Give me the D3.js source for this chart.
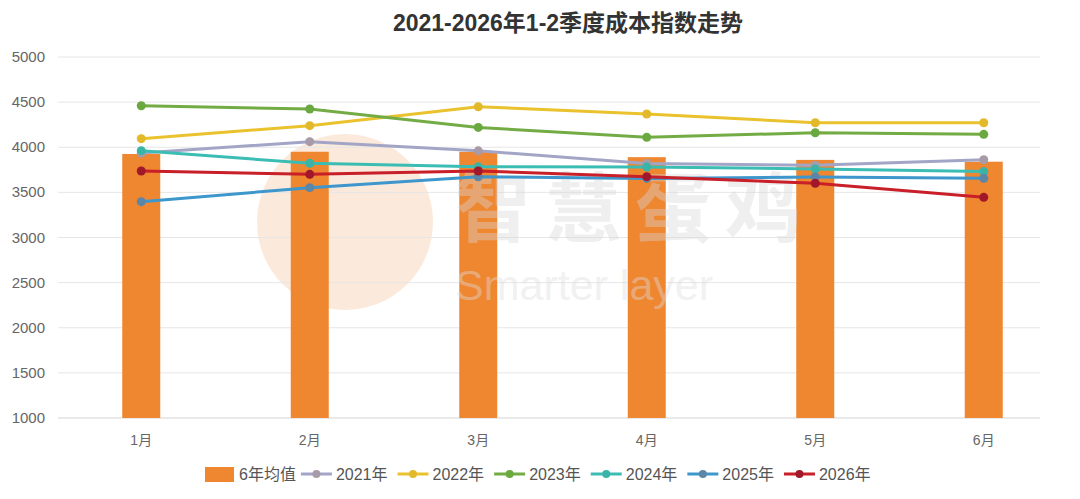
<!DOCTYPE html>
<html>
<head>
<meta charset="utf-8">
<script src="https://cdn.jsdelivr.net/npm/d3@7"></script>
<style>
  body { margin: 0; background: #fff; }
  #chart { width: 1080px; height: 499px; }
  text { font-family: "Liberation Sans", Arial, "Noto Sans CJK SC", sans-serif; }
</style>
</head>
<body>
<div id="chart"></div>
<script>
// 数据
const months = ["1月", "2月", "3月", "4月", "5月", "6月"];
const avg6 = [3925, 3950, 3950, 3890, 3860, 3840];
const y2021 = [3935, 4062, 3960, 3820, 3800, 3862];
const y2022 = [4095, 4239, 4449, 4368, 4272, 4272];
const y2023 = [4460, 4424, 4220, 4110, 4161, 4143];
const y2024 = [3962, 3822, 3785, 3780, 3760, 3730];
const y2025 = [3397, 3552, 3673, 3655, 3670, 3656];
const y2026 = [3737, 3700, 3737, 3674, 3600, 3445];
const yTicks = [1000, 1500, 2000, 2500, 3000, 3500, 4000, 4500, 5000];

const series = [
  { name: "2021年", values: y2021, color: "#a3a5c6", dot: "#a89ba8" },
  { name: "2022年", values: y2022, color: "#e9c22e", dot: "#e2b92a" },
  { name: "2023年", values: y2023, color: "#73ac45", dot: "#6aa840" },
  { name: "2024年", values: y2024, color: "#3cbdb4", dot: "#3bb4a8" },
  { name: "2025年", values: y2025, color: "#3d96cc", dot: "#5b86a8" },
  { name: "2026年", values: y2026, color: "#c81f28", dot: "#a0182a" }
];

const width = 1080, height = 499;
const svg = d3.select("#chart").append("svg")
    .attr("width", width)
    .attr("height", height);

const x = d3.scaleBand().domain(months).range([57, 1068]);
const y = d3.scaleLinear().domain([1000, 5000]).range([418, 57]);

// 水印底圆
svg.append("circle").attr("cx", 345).attr("cy", 222).attr("r", 88).attr("fill", "#fbeadb");

// 网格线
svg.append("g")
  .selectAll("line")
  .data(yTicks)
  .join("line")
    .attr("x1", 58).attr("x2", 1040)
    .attr("y1", d => y(d)).attr("y2", d => y(d))
    .attr("stroke", d => d === 1000 ? "#d4d4d4" : "#e6e6e6")
    .attr("stroke-width", 1);

// Y 轴标签
svg.append("g")
  .selectAll("text")
  .data(yTicks)
  .join("text")
    .attr("x", 45)
    .attr("y", d => y(d) + 5)
    .attr("text-anchor", "end")
    .attr("font-size", "15px")
    .attr("fill", "#666")
    .text(d => d);

// X 轴标签
svg.append("g")
  .selectAll("text")
  .data(months)
  .join("text")
    .attr("x", d => x(d) + x.bandwidth() / 2)
    .attr("y", 445)
    .attr("text-anchor", "middle")
    .attr("font-size", "14px")
    .attr("fill", "#666")
    .text(d => d);

// 柱子
const barW = 38;
svg.append("g")
  .selectAll("rect")
  .data(avg6)
  .join("rect")
    .attr("x", (d, i) => x(months[i]) + x.bandwidth() / 2 - barW / 2)
    .attr("y", d => y(d))
    .attr("width", barW)
    .attr("height", d => y(1000) - y(d))
    .attr("fill", "#ef8630");

// 水印文字（压在柱子上）
const wm = svg.append("g").attr("opacity", 0.4);
wm.append("text")
    .attr("x", 455).attr("y", 236)
    .attr("font-family", "Noto Sans CJK SC")
    .attr("font-size", "76px").attr("font-weight", "bold")
    .attr("letter-spacing", "14px")
    .attr("fill", "#d8d8d8")
    .text("智慧蛋鸡");
wm.append("text")
    .attr("x", 455).attr("y", 300)
    .attr("font-size", "43px")
    .attr("fill", "#dedede")
    .text("Smarter layer");

// 折线
const line = d3.line()
    .x((d, i) => x(months[i]) + x.bandwidth() / 2)
    .y(d => y(d));

series.forEach(s => {
  const g = svg.append("g");
  g.append("path")
      .attr("d", line(s.values))
      .attr("fill", "none")
      .attr("stroke", s.color)
      .attr("stroke-width", 3);
  g.selectAll("circle")
    .data(s.values)
    .join("circle")
      .attr("cx", (d, i) => x(months[i]) + x.bandwidth() / 2)
      .attr("cy", d => y(d))
      .attr("r", 4.5)
      .attr("fill", s.dot);
});

// 标题
svg.append("text")
    .attr("x", 568)
    .attr("y", 31)
    .attr("text-anchor", "middle")
    .attr("font-size", "23px")
    .attr("font-weight", "bold")
    .attr("fill", "#333")
    .text("2021-2026年1-2季度成本指数走势");

// 图例
const legend = svg.append("g");
let lx = 0;
const ly = 474;
const barItem = legend.append("g");
barItem.append("rect").attr("x", lx).attr("y", ly - 7).attr("width", 29).attr("height", 15).attr("fill", "#ef8630");
const t0 = barItem.append("text").attr("x", lx + 34).attr("y", ly + 6).attr("font-size", "16px").attr("fill", "#555").text("6年均值");
lx += 34 + t0.node().getComputedTextLength() + 5;
series.forEach(s => {
  const gi = legend.append("g");
  gi.append("line").attr("x1", lx).attr("x2", lx + 31).attr("y1", ly).attr("y2", ly)
      .attr("stroke", s.color).attr("stroke-width", 3);
  gi.append("circle").attr("cx", lx + 15.5).attr("cy", ly).attr("r", 4).attr("fill", s.dot);
  const t = gi.append("text").attr("x", lx + 35).attr("y", ly + 6).attr("font-size", "16px").attr("fill", "#555").text(s.name);
  lx += 35 + t.node().getComputedTextLength() + 10;
});
legend.attr("transform", `translate(${205}, 0)`);
</script>
</body>
</html>
